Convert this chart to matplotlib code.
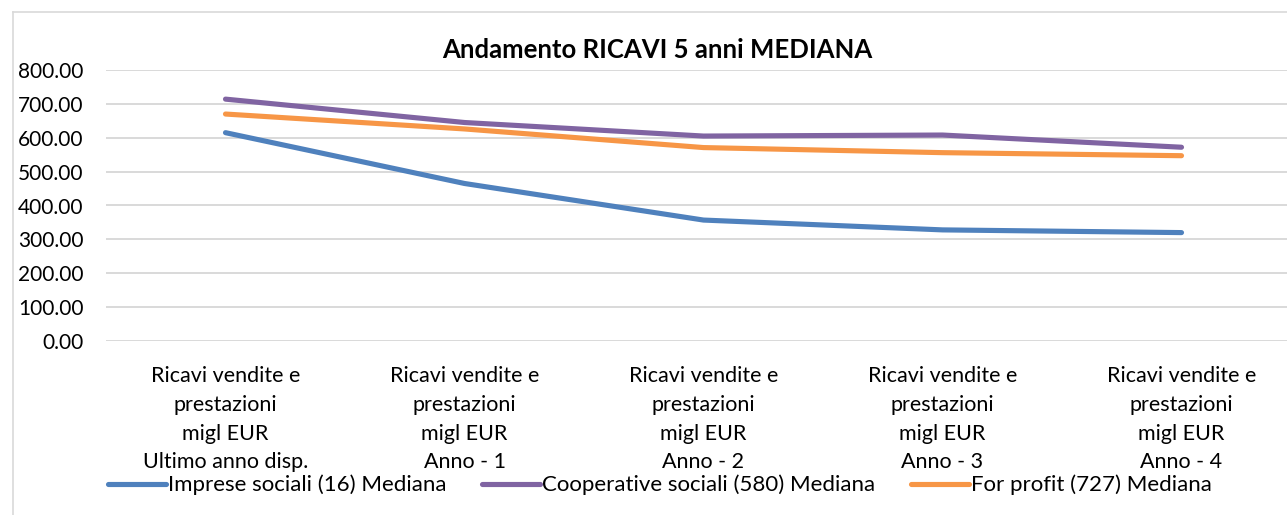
import matplotlib
matplotlib.use("Agg")
import matplotlib.pyplot as plt
from matplotlib.lines import Line2D

plt.rcParams['font.family'] = ['Lato', 'DejaVu Sans']

categories = [
    "Ricavi vendite e\nprestazioni\nmigl EUR\nUltimo anno disp.",
    "Ricavi vendite e\nprestazioni\nmigl EUR\nAnno - 1",
    "Ricavi vendite e\nprestazioni\nmigl EUR\nAnno - 2",
    "Ricavi vendite e\nprestazioni\nmigl EUR\nAnno - 3",
    "Ricavi vendite e\nprestazioni\nmigl EUR\nAnno - 4",
]
imprese = [615, 465, 357, 328, 320]
cooperative = [714, 645, 605, 608, 572]
forprofit = [670, 626, 571, 556, 547]
series_names = ["Imprese sociali (16) Mediana",
                "Cooperative sociali (580) Mediana",
                "For profit (727) Mediana"]
yticks = [0, 100, 200, 300, 400, 500, 600, 700, 800]

W, H = 1287, 515
fig = plt.figure(figsize=(W / 100, H / 100), dpi=100)
left = 106 / W
bottom = 1 - 341 / H
top = 1 - 70 / H
right = 1301 / W
ax = fig.add_axes([left, bottom, right - left, top - bottom])

x = list(range(len(categories)))
colors = ["#4F81BD", "#8064A2", "#F79646"]
for vals, c, n in zip([imprese, cooperative, forprofit], colors, series_names):
    ax.plot(x, vals, color=c, lw=3.7, solid_capstyle='round', label=n, zorder=3)

ax.set_xlim(-0.5, 4.5)
ax.set_ylim(0, 800)
ax.set_yticks(yticks)
ax.set_yticklabels([f"{v:.2f}" for v in yticks], fontsize=15)
ax.set_xticks(x)
ax.set_xticklabels(categories, linespacing=1.55, fontsize=15.5)
ax.tick_params(axis='both', length=0, colors='#000000')
ax.tick_params(axis='y', pad=16)
ax.tick_params(axis='x', pad=18)
ax.grid(axis='y', color='#D9D9D9', lw=1.4)
ax.set_axisbelow(True)
for s in ax.spines.values():
    s.set_visible(False)

fig.text(657 / W, 1 - 50 / H, "Andamento RICAVI 5 anni MEDIANA", ha='center', va='center',
         fontsize=18.5, fontweight='bold')

handles = [Line2D([0], [0], color=c, lw=3.7, solid_capstyle='round') for c in colors]
fig.legend(handles, series_names, loc='center', bbox_to_anchor=(660 / W, 1 - 485 / H),
           ncol=3, frameon=False, fontsize=16, handlelength=2.6, handletextpad=0.1,
           columnspacing=1.6, borderaxespad=0)

# chart frame
fig.add_artist(Line2D([13 / W, 13 / W], [0, 1 - 12 / H], color='#D9D9D9', lw=1.2))
fig.add_artist(Line2D([13 / W, 1], [1 - 12 / H, 1 - 12 / H], color='#D9D9D9', lw=1.2))

fig.savefig("out.png", dpi=100, facecolor='white')
